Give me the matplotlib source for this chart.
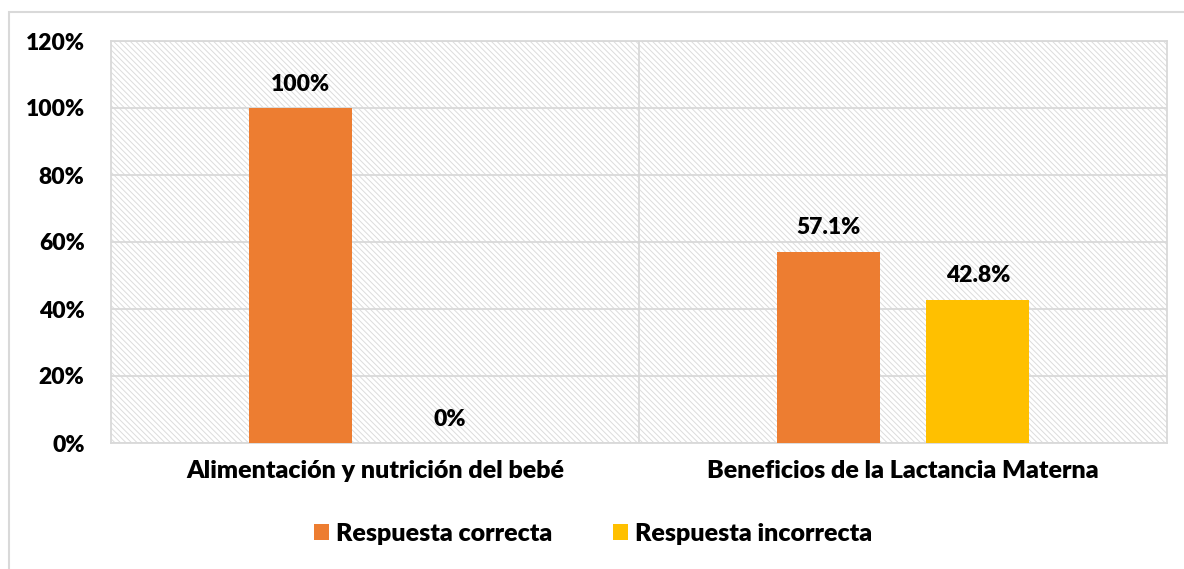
import matplotlib.pyplot as plt
import matplotlib.patches as ptchs
import numpy as np

categories = ["Alimentación y nutrición del bebé", "Beneficios de la Lactancia Materna"]
series_names = ["Respuesta correcta", "Respuesta incorrecta"]
correcta = [100, 57.1]
incorrecta = [0, 42.8]
labels_correcta = ["100%", "57.1%"]
labels_incorrecta = ["0%", "42.8%"]
yticks = [0, 20, 40, 60, 80, 100, 120]

ORANGE = "#ED7D31"
YELLOW = "#FFC000"
GRID = "#D9D9D9"
FONT = ["Lato", "DejaVu Sans"]
FS = 16.5
FS_CAT = 18
WEIGHT = "heavy"

plt.rcParams["font.family"] = FONT
plt.rcParams["hatch.linewidth"] = 0.7

fig = plt.figure(figsize=(11.84, 5.69), dpi=100)
ax = fig.add_axes([111 / 1184, 1 - 443 / 569, (1167 - 111) / 1184, (443 - 41) / 569])

# outer chart border
fig.patches.append(ptchs.Rectangle((9 / 1184, -0.05), 1.2, 1 - 12 / 569 + 0.05,
                                   transform=fig.transFigure, fill=False,
                                   edgecolor=GRID, linewidth=1.5))

# hatched plot area
ax.add_patch(ptchs.Rectangle((0, 0), 1, 1, transform=ax.transAxes, facecolor="white",
                             edgecolor="#DCDCDC", linewidth=0, hatch="\\\\\\\\\\\\", zorder=0))

x = np.arange(len(categories))
w = 0.195
off = 0.142
b1 = ax.bar(x - off, correcta, w, color=ORANGE, zorder=3, label=series_names[0])
b2 = ax.bar(x + off, incorrecta, w, color=YELLOW, zorder=3, label=series_names[1])

for rect, lab in zip(b1, labels_correcta):
    ax.text(rect.get_x() + rect.get_width() / 2, rect.get_height() + 4, lab,
            ha="center", va="bottom", fontsize=FS, fontweight=WEIGHT, zorder=4)
for rect, lab in zip(b2, labels_incorrecta):
    ax.text(rect.get_x() + rect.get_width() / 2, rect.get_height() + 4, lab,
            ha="center", va="bottom", fontsize=FS, fontweight=WEIGHT, zorder=4)

ax.set_xlim(-0.5, 1.5)
ax.set_ylim(0, 120)
ax.set_yticks(yticks)
ax.set_yticklabels([f"{v}%" for v in yticks], fontsize=FS, fontweight=WEIGHT)
ax.set_xticks(x)
ax.set_xticklabels(categories, fontsize=FS_CAT, fontweight=WEIGHT)
ax.tick_params(axis="both", length=0)
ax.tick_params(axis="y", pad=19)
ax.tick_params(axis="x", pad=12)

for v in yticks:
    ax.axhline(v, color=GRID, linewidth=1.3, zorder=1)
ax.axvline(0.5, color=GRID, linewidth=1.3, zorder=1)
for s in ax.spines.values():
    s.set_color(GRID)
    s.set_linewidth(1.3)

fig.legend(handles=[b1, b2], labels=series_names, loc="center", ncol=2,
           bbox_to_anchor=(593 / 1184, 1 - 534 / 569), frameon=False,
           prop={"family": FONT, "weight": WEIGHT, "size": FS_CAT},
           handlelength=0.6, handleheight=0.6, handletextpad=0.3, columnspacing=2.4)

fig.savefig("out.png", dpi=100)
